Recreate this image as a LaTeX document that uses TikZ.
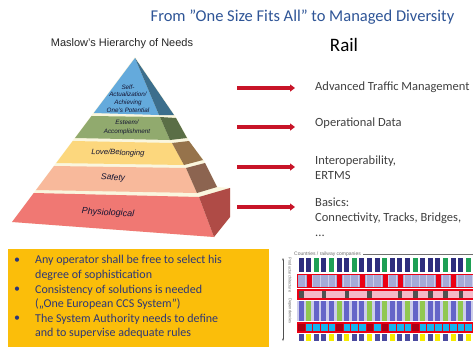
\documentclass[tikz,border=0pt]{standalone}
\usepackage{fontspec}
\setmainfont{Carlito}
\newfontfamily\arialfont{Liberation Sans}
\usetikzlibrary{arrows.meta}
\definecolor{titleblue}{RGB}{47,85,151}
\definecolor{txtgray}{RGB}{64,64,64}
\definecolor{arrowred}{RGB}{200,20,40}
\definecolor{boxyellow}{RGB}{251,190,10}
\definecolor{boxtext}{RGB}{45,55,120}
\definecolor{pyrtext}{RGB}{20,20,50}
\definecolor{cream}{RGB}{250,246,222}
\definecolor{bluefront}{RGB}{100,170,220}
\definecolor{blueside}{RGB}{60,110,140}
\definecolor{greenfront}{RGB}{145,170,110}
\definecolor{greenside}{RGB}{90,110,70}
\definecolor{yellowfront}{RGB}{252,215,125}
\definecolor{yellowside}{RGB}{150,115,75}
\definecolor{salmonfront}{RGB}{248,185,155}
\definecolor{salmonside}{RGB}{140,100,80}
\definecolor{redfront}{RGB}{240,120,115}
\definecolor{redside}{RGB}{175,75,70}
\definecolor{gnavy}{RGB}{45,45,125}
\definecolor{growsix}{RGB}{75,75,160}
\definecolor{ggreen}{RGB}{30,160,85}
\definecolor{gred}{RGB}{235,0,20}
\definecolor{glav}{RGB}{165,170,215}
\definecolor{glavgap}{RGB}{205,205,235}
\definecolor{gpink}{RGB}{245,185,200}
\definecolor{gdark}{RGB}{80,80,80}
\definecolor{gblue}{RGB}{100,100,200}
\definecolor{glgreen}{RGB}{145,200,80}
\definecolor{gcyan}{RGB}{20,180,240}
\definecolor{gdarkred}{RGB}{170,0,20}
\definecolor{gyellow}{RGB}{245,235,0}
\definecolor{ggray}{RGB}{110,110,110}
\tikzset{
  pyrlabel/.style={text=pyrtext, align=center, inner sep=0pt},
  railtext/.style={font=\fontsize{12.5}{15}\selectfont, text=txtgray, anchor=west, align=left, inner sep=0pt},
  redarrow/.style={draw=arrowred, line width=3.2pt, -{Triangle[length=5pt,width=7pt]}},
  bullettext/.style={font=\fontsize{12}{14.4}\selectfont, text=boxtext, anchor=west, align=left, inner sep=0pt},
  bulletdot/.style={font=\fontsize{12}{14.4}\selectfont, text=boxtext, inner sep=0pt},
  tinylabel/.style={text=ggray, inner sep=0pt},
}
\begin{document}
\begin{tikzpicture}[x=1pt,y=-1pt]
\useasboundingbox[fill=white] (0,0) rectangle (473,346);

% headings
\node[font=\fontsize{16.5}{20}\selectfont, text=titleblue, inner sep=0pt] (title) at (302.5,17) {From ”One Size Fits All” to Managed Diversity};
\node[font=\arialfont\fontsize{11}{13}\selectfont, text=black!85, inner sep=0pt] (maslow) at (122,44) {Maslow’s Hierarchy of Needs};
\node[font=\fontsize{19}{22}\selectfont, inner sep=0pt] (rail) at (344,45) {Rail};

% pyramid
\fill[cream] (135,57) -- (174.5,115) -- (187.5,138) -- (189,141) -- (203.5,160) -- (205,163) -- (217.5,187) -- (230,188) -- (230,217) -- (214,237) -- (12,222) -- cycle;
\fill[bluefront] (135,58) -- (159,115) -- (93.75,113) -- cycle;
\fill[blueside] (135,58) -- (174,115) -- (159,115) -- cycle;
\fill[greenfront] (91.5,116) -- (160,117) -- (170,140) -- (75,138) -- cycle;
\fill[greenside] (160,117) -- (176,118) -- (187,138) -- (170,140) -- cycle;
\fill[yellowfront] (72.75,141) -- (172,143) -- (184,165) -- (56.25,163) -- cycle;
\fill[yellowside] (172,143) -- (189,141) -- (203,160) -- (184,165) -- cycle;
\fill[salmonfront] (54,166) -- (186,168) -- (197,193) -- (36,190) -- cycle;
\fill[salmonside] (186,168) -- (205,163) -- (217,187) -- (197,193) -- cycle;
\fill[redfront] (33.75,193) -- (199,197) -- (214,237) -- (12,222) -- cycle;
\fill[redside] (199,197) -- (230,188) -- (230,217) -- (214,237) -- cycle;

\node[pyrlabel, font=\arialfont\itshape\fontsize{6.3}{7.7}\selectfont] (selfact) at (128,98.5) {Self-\\Actualization/\\Achieving\\One’s Potential};
\node[pyrlabel, font=\arialfont\itshape\fontsize{6.3}{9}\selectfont] (esteem) at (127,127) {Esteem/\\Accomplishment};
\node[pyrlabel, font=\arialfont\itshape\fontsize{7.7}{9}\selectfont, rotate=-2] (love) at (118,153) {Love/Belonging};
\node[pyrlabel, font=\arialfont\itshape\fontsize{8.5}{10}\selectfont, rotate=-3] (safety) at (113,178) {Safety};
\node[pyrlabel, font=\arialfont\itshape\fontsize{9}{11}\selectfont, rotate=-3] (physio) at (108,213) {Physiological};

% arrows
\coordinate (a1s) at (237,88);  \coordinate (a1e) at (295,88);
\coordinate (a2s) at (237,127); \coordinate (a2e) at (295,127);
\coordinate (a3s) at (237,167); \coordinate (a3e) at (295,167);
\coordinate (a4s) at (237,207); \coordinate (a4e) at (295,207);
\draw[redarrow] (a1s) -- (a1e);
\draw[redarrow] (a2s) -- (a2e);
\draw[redarrow] (a3s) -- (a3e);
\draw[redarrow] (a4s) -- (a4e);

% rail texts
\node[railtext] (atm) at (315,87) {Advanced Traffic Management};
\node[railtext] (opdata) at (315,123) {Operational Data};
\node[railtext] (interop) at (315,167.5) {Interoperability,\\ERTMS};
\node[railtext] (basics) at (315,217.5) {Basics:\\Connectivity, Tracks, Bridges,\\...};

% yellow box
\fill[boxyellow] (8,249) rectangle (269,350);
\node[bulletdot] (d1) at (17,261) {•};
\node[bulletdot] (d2) at (17,290) {•};
\node[bulletdot] (d3) at (17,319) {•};
\node[bullettext] (b1) at (35,268) {Any operator shall be free to select his\\degree of sophistication};
\node[bullettext] (b2) at (35,297) {Consistency of solutions is needed\\(„One European CCS System”)};
\node[bullettext] (b3) at (35,326) {The System Authority needs to define\\and to supervise adequate rules};

% product grid
\begin{scope}
\clip (270,248) rectangle (473,346);
\foreach \i in {0,...,23} \fill[gnavy] ({298.5+7.6*\i},258) rectangle +(5,14);
\foreach \i in {2,4,7,11,15,19,22} \fill[ggreen] ({298.5+7.6*\i},258) rectangle +(5,14);
\fill[gred] (297,273.5) rectangle (480,288);
\fill[glavgap] (298.5,275) rectangle (480,286.5);
\foreach \i in {0,...,23} \fill[glav] ({298.2+7.6*\i},275) rectangle +(6.6,11.5);
\foreach \i in {1,5,8,11,13,18,20} \fill[gred] ({299+7.6*\i},275) rectangle +(5,11.5);
\fill[gred] (297,289) rectangle (480,299.5);
\fill[gpink] (298.5,290.5) rectangle (480,298);
\foreach \i in {0,3,6,9,13,15,17,19,21} \fill[gdark] ({299+7.6*\i},290.5) rectangle +(4.5,7.5);
\fill[glavgap] (297,300.5) rectangle (480,321);
\foreach \i in {0,...,23} \fill[gblue] ({298.5+7.6*\i},300.5) rectangle +(5,20.5);
\foreach \i in {1,5,9,11,14,16,19,21} \fill[glgreen] ({298.5+7.6*\i},300.5) rectangle +(5,20.5);
\fill[gred] (297,322) rectangle (480,332.5);
\foreach \i in {0,...,23} \fill[gcyan] ({298.2+7.6*\i},324) rectangle +(6.6,6.5);
\foreach \i in {0,5,9,11,15,23} \fill[gdarkred] ({298.2+7.6*\i},323.5) rectangle +(6.6,7.5);
\foreach \i in {0,...,23} \fill[growsix] ({298.5+7.6*\i},333.5) rectangle +(5,7);
\foreach \i in {1,4,6,9,12,16,18,20,22} \fill[gyellow] ({298.5+7.6*\i},333.5) rectangle +(5,7);
\end{scope}

\node[tinylabel, font=\arialfont\fontsize{5}{6}\selectfont, anchor=west] (countries) at (294,254) {Countries / railway companies};
\coordinate (cline) at (473,254);
\draw[ggray, line width=0.5pt] ([xshift=2pt]countries.east) -- (cline);
\coordinate (vtop) at (283,258);
\coordinate (vbot) at (283,341);
\draw[gdark, line width=0.5pt, {Stealth[length=2.5pt]}-{Stealth[length=2.5pt]}] (vtop) -- (vbot);
\node[tinylabel, font=\arialfont\fontsize{4}{5}\selectfont, rotate=-90] (prodarch) at (290,275) {Productarchitecture};
\node[tinylabel, font=\arialfont\fontsize{4}{5}\selectfont, rotate=-90] (depend) at (290,311) {Dependencies};
\end{tikzpicture}
\end{document}
